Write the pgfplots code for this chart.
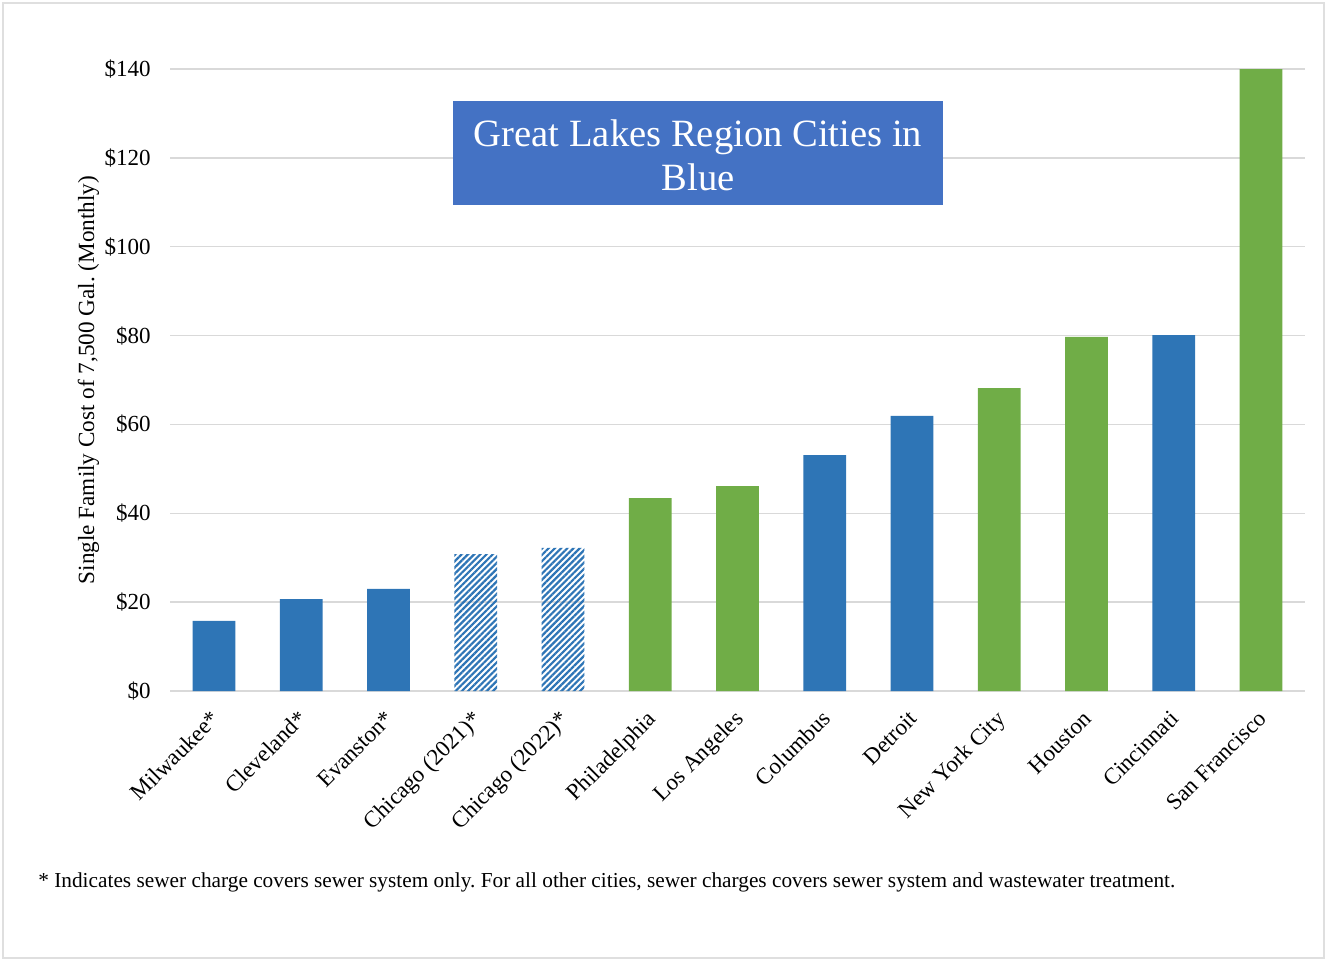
\documentclass[border=0pt]{standalone}
\usepackage{fontspec}
\setmainfont{Liberation Serif}
\usepackage{pgfplots}
\pgfplotsset{compat=1.18}
\usetikzlibrary{patterns.meta}
\definecolor{barblue}{HTML}{2E75B6}
\definecolor{bargreen}{HTML}{70AD47}
\definecolor{boxblue}{HTML}{4472C4}
\definecolor{gridgray}{HTML}{D9D9D9}
\frenchspacing
\begin{document}
\begin{tikzpicture}
\useasboundingbox (-85.2pt,-134.5pt) rectangle (577.8pt,345.5pt);
\draw[gray!25, line width=0.8pt] (-83.7pt,-133.5pt) rectangle (576.8pt,344pt);
\begin{axis}[
  at={(0,0)}, anchor=south west,
  scale only axis, width=567.1pt, height=311pt,
  xmin=-0.5, xmax=12.5, ymin=0, ymax=140,
  ybar, bar width=0.49, bar shift=0pt,
  axis x line*=bottom, axis y line*=left,
  x axis line style={gridgray, line width=0.75pt, -},
  y axis line style={draw=none},
  ymajorgrids, grid style={gridgray, line width=0.75pt},
  major tick length=0pt,
  xtick={0,...,12},
  xticklabels={Milwaukee*,Cleveland*,Evanston*,Chicago (2021)*,Chicago (2022)*,Philadelphia,Los Angeles,Columbus,Detroit,New York City,Houston,Cincinnati,San Francisco},
  x tick label style={rotate=45, anchor=north east, font=\fontsize{11.5}{13}\selectfont, inner sep=1pt, yshift=-3.7pt, xshift=-6.8pt},
  ytick={0,20,...,140},
  yticklabels={\$0,\$20,\$40,\$60,\$80,\$100,\$120,\$140},
  y tick label style={font=\fontsize{11.5}{13}\selectfont, anchor=east, inner sep=0pt, xshift=-9.7pt},
  ylabel={Single Family Cost of 7,500 Gal. (Monthly)},
  every axis y label/.style={at={(rel axis cs:0,0.5)}, rotate=90, anchor=center, yshift=41pt, font=\fontsize{11.6}{14}\selectfont},
  clip=false,
]
\addplot[fill=barblue, draw=none] coordinates {(0,15.8) (1,20.7) (2,23.0) (7,53.1) (8,61.9) (11,80.1)};
\addplot[fill=bargreen, draw=none] coordinates {(5,43.4) (6,46.1) (9,68.2) (10,79.7) (12,140)};
\addplot[draw=none, pattern={Lines[angle=45,distance=2.2pt,line width=1.1pt]}, pattern color=barblue] coordinates {(3,30.8) (4,32.2)};
\end{axis}
\fill[boxblue] (141.3pt,243pt) rectangle (386.3pt,295pt);
\node[text=white, align=center, inner sep=0pt, font=\fontsize{19.3}{22}\selectfont] at (263.8pt,268pt) {Great Lakes Region Cities in\\Blue};
\node[anchor=west, inner sep=0pt, font=\fontsize{10.65}{12}\selectfont] at (-66.2pt,-95.5pt) {* Indicates sewer charge covers sewer system only. For all other cities, sewer charges covers sewer system and wastewater treatment.};
\end{tikzpicture}
\end{document}
